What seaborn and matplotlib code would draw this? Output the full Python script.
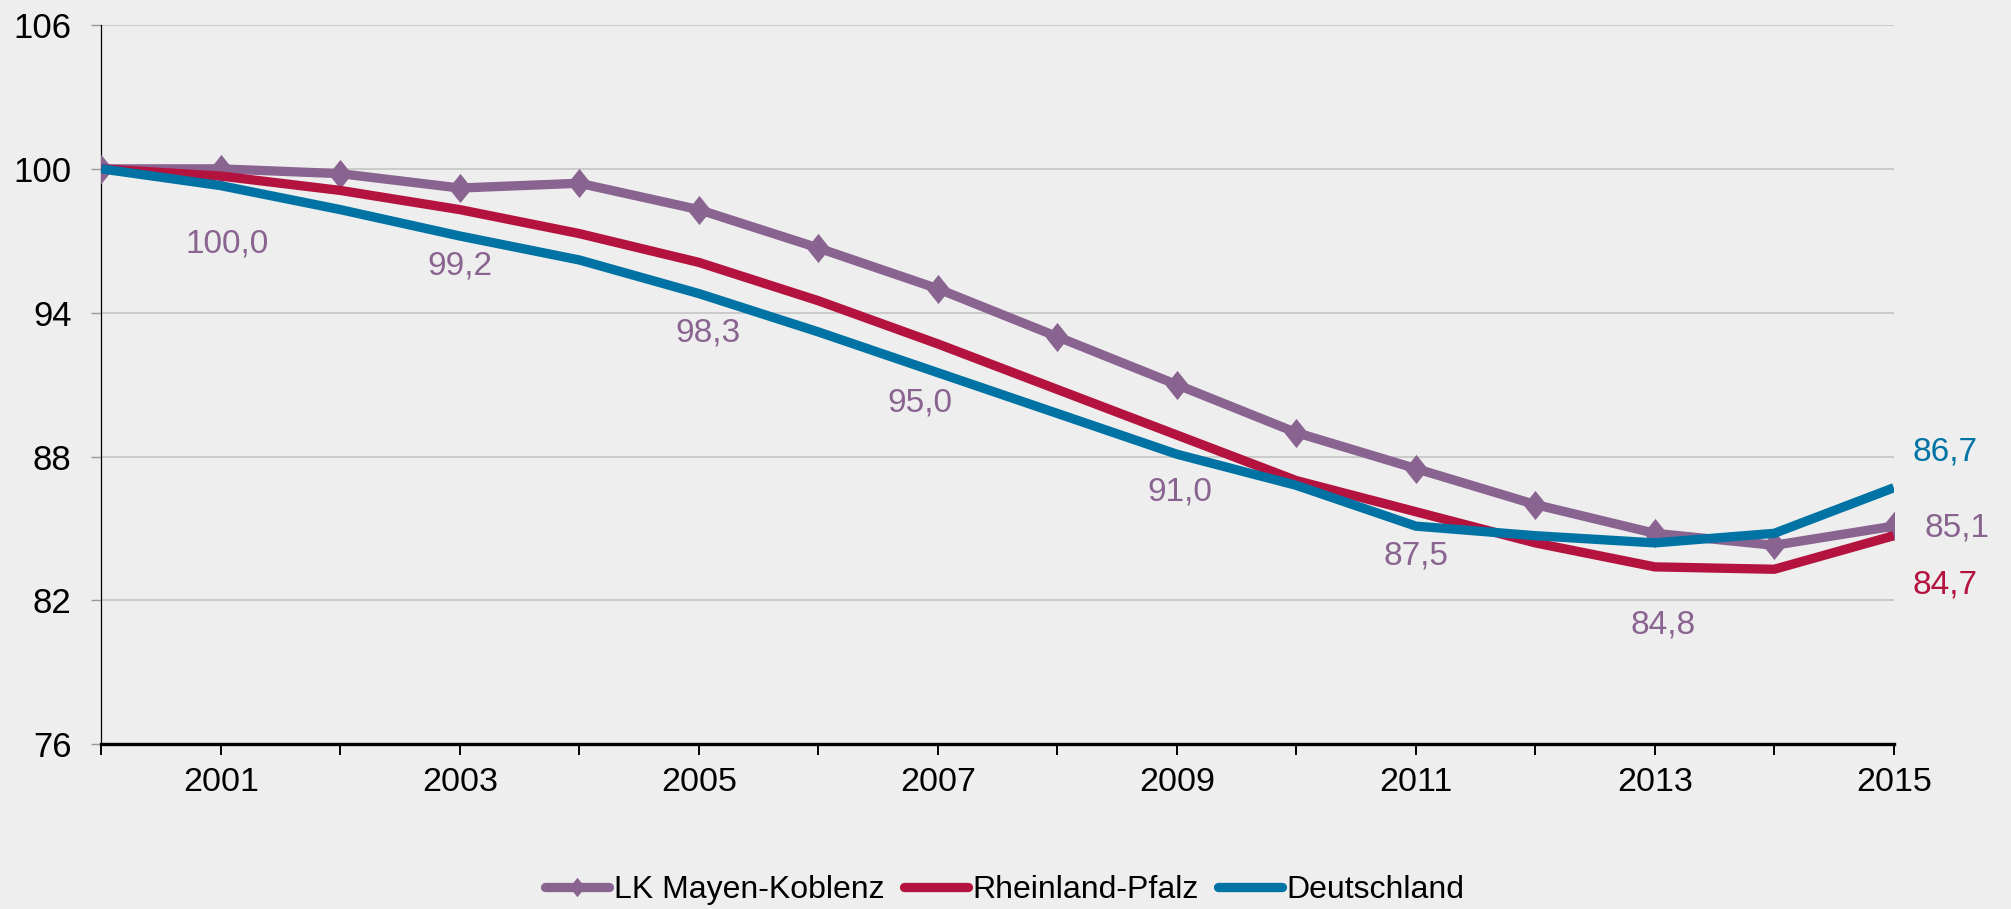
import matplotlib
matplotlib.use("Agg")
import matplotlib.pyplot as plt
from matplotlib.path import Path
from matplotlib.lines import Line2D
import seaborn as sns
import pandas as pd

# Index values (2000 = 100)
years = list(range(2000, 2016))
mayen_koblenz = [100.0, 100.0, 99.8, 99.2, 99.4, 98.3, 96.7, 95.0, 93.0, 91.0,
                 89.0, 87.5, 86.0, 84.8, 84.3, 85.1]
rheinland_pfalz = [100.0, 99.7, 99.1, 98.3, 97.3, 96.1, 94.5, 92.7, 90.8, 88.9,
                   87.0, 85.7, 84.4, 83.4, 83.3, 84.7]
deutschland = [100.0, 99.3, 98.3, 97.2, 96.2, 94.8, 93.2, 91.5, 89.8, 88.1,
               86.8, 85.1, 84.7, 84.4, 84.8, 86.7]
series_names = ["LK Mayen-Koblenz", "Rheinland-Pfalz", "Deutschland"]
y_ticks = [76, 82, 88, 94, 100, 106]
labelled_years = [2001, 2003, 2005, 2007, 2009, 2011, 2013]

PURPLE = "#8a6490"
RED = "#b5133f"
BLUE = "#0073a4"
BG = "#eeeeee"

sns.set_style("white")
plt.rcParams["font.family"] = ["Liberation Sans", "DejaVu Sans"]
plt.rcParams["text.color"] = "black"

def fmt(v):
    return f"{v:.1f}".replace(".", ",")

# slightly elongated diamond marker
diamond = Path([(0, 1), (0.8, 0), (0, -1), (-0.8, 0), (0, 1)],
               [Path.MOVETO, Path.LINETO, Path.LINETO, Path.LINETO, Path.CLOSEPOLY])

df = pd.DataFrame({"Jahr": years * 3,
                   "Wert": mayen_koblenz + rheinland_pfalz + deutschland,
                   "Gebiet": [series_names[0]] * len(years)
                             + [series_names[1]] * len(years)
                             + [series_names[2]] * len(years)})

fig = plt.figure(figsize=(20.11, 9.09), dpi=100, facecolor=BG)
ax = fig.add_axes([101.3 / 2011, 1 - 744.3 / 909,
                   (1893.8 - 101.3) / 2011, (744.3 - 25) / 909])
ax.set_facecolor(BG)

lw = 6.7
sns.lineplot(data=df[df["Gebiet"] == series_names[0]], x="Jahr", y="Wert",
             color=PURPLE, linewidth=lw, marker=diamond, markersize=21,
             markeredgewidth=0, ax=ax, legend=False, zorder=3)
sns.lineplot(data=df[df["Gebiet"] == series_names[1]], x="Jahr", y="Wert",
             color=RED, linewidth=lw, ax=ax, legend=False, zorder=4)
sns.lineplot(data=df[df["Gebiet"] == series_names[2]], x="Jahr", y="Wert",
             color=BLUE, linewidth=lw, ax=ax, legend=False, zorder=5)
for ln in ax.get_lines():
    ln.set_solid_capstyle("butt")
    ln.set_solid_joinstyle("round")

ax.set_xlim(2000, 2015)
ax.set_ylim(76, 106)
ax.set_yticks(y_ticks)
ax.set_yticklabels([str(t) for t in y_ticks])
ax.set_xticks(years)
ax.set_xticklabels([str(y) if y % 2 == 1 else "" for y in years])
ax.set_xlabel("")
ax.set_ylabel("")

ax.grid(axis="y", color="#c8c8c8", linewidth=1.3, zorder=0)
ax.grid(axis="x", visible=False)
ax.set_axisbelow(True)

for s in ("top", "right"):
    ax.spines[s].set_visible(False)
ax.spines["left"].set_color("black")
ax.spines["left"].set_linewidth(0.9)
ax.spines["bottom"].set_color("black")
ax.spines["bottom"].set_linewidth(2.4)
ax.spines["bottom"].set_zorder(6)

ax.tick_params(axis="y", which="both", direction="out", length=7.5, width=1,
               color="#9a9a9a", pad=14, labelsize=25, labelcolor="black", left=True)
ax.tick_params(axis="x", which="both", direction="out", length=8, width=1.4,
               color="black", pad=8, labelsize=24.5, labelcolor="black", bottom=True)

# value labels below the district line
label_offsets = {2001: (6, -75), 2003: (0, -78), 2005: (9, -123), 2007: (-18, -114),
                 2009: (3, -107), 2011: (0, -87), 2013: (8, -92)}
for yr in labelled_years:
    v = mayen_koblenz[years.index(yr)]
    dx, dy = label_offsets[yr]
    ax.annotate(fmt(v), xy=(yr, v), xytext=(dx, dy), textcoords="offset pixels",
                ha="center", va="center", fontsize=24, color=PURPLE,
                annotation_clip=False)

# end-of-line labels
ax.annotate(fmt(mayen_koblenz[-1]), xy=(years[-1], mayen_koblenz[-1]), xytext=(31, -2),
            textcoords="offset pixels", ha="left", va="center", fontsize=24,
            color=PURPLE, annotation_clip=False)
ax.annotate(fmt(deutschland[-1]), xy=(years[-1], deutschland[-1]), xytext=(19, 36),
            textcoords="offset pixels", ha="left", va="center", fontsize=24,
            color=BLUE, annotation_clip=False)
ax.annotate(fmt(rheinland_pfalz[-1]), xy=(years[-1], rheinland_pfalz[-1]), xytext=(19, -49),
            textcoords="offset pixels", ha="left", va="center", fontsize=24,
            color=RED, annotation_clip=False)

handles = [
    Line2D([], [], color=PURPLE, linewidth=lw, marker=diamond, markersize=14,
           markeredgewidth=0, solid_capstyle="round"),
    Line2D([], [], color=RED, linewidth=lw, solid_capstyle="round"),
    Line2D([], [], color=BLUE, linewidth=lw, solid_capstyle="round"),
]
leg = fig.legend(handles, series_names, loc="center",
                 bbox_to_anchor=(1005 / 2011, 1 - 890 / 909),
                 ncol=3, frameon=False, fontsize=23, handlelength=2.0,
                 handletextpad=0.15, columnspacing=0.6, borderaxespad=0)
for t in leg.get_texts():
    t.set_color("black")

fig.savefig("out.png", dpi=100, facecolor=BG)
